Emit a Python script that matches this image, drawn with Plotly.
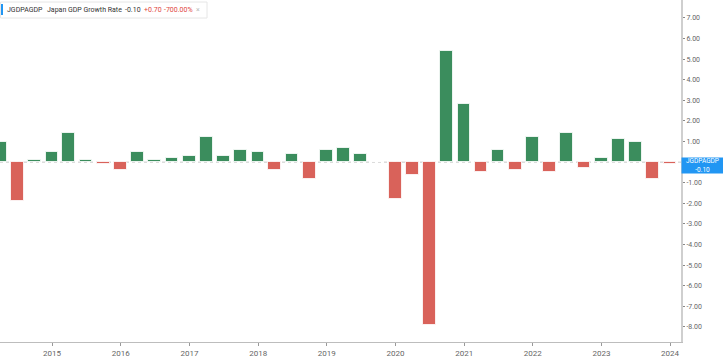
import plotly.graph_objects as go
import pandas as pd

quarters = pd.date_range("2014-03-31", periods=40, freq="QE")
growth = [1.0, -1.9, 0.1, 0.5,
          1.4, 0.1, -0.1, -0.4,
          0.5, 0.1, 0.2, 0.3,
          1.2, 0.3, 0.6, 0.5,
          -0.4, 0.4, -0.8, 0.6,
          0.7, 0.4, 0.0, -1.8,
          -0.6, -7.9, 5.4, 2.8,
          -0.5, 0.6, -0.4, 1.2,
          -0.5, 1.4, -0.3, 0.2,
          1.1, 1.0, -0.8, -0.1]
year_ticks = [f"{y}-01-01" for y in range(2015, 2025)]
year_labels = [str(y) for y in range(2015, 2025)]
y_ticks = [v for v in range(-8, 8) if v != 0]
y_labels = [f"{v:.2f}" for v in y_ticks]

GREEN = "#3b8d5d"
RED = "#d9625a"
colors = [GREEN if v >= 0 else RED for v in growth]

PW = 681.0  # plot width px
PH = 342.0  # plot height px

fig = go.Figure()
fig.add_trace(go.Bar(
    x=quarters, y=growth,
    marker=dict(color=colors, line=dict(color="rgba(255,255,255,0.8)", width=1)),
    width=68 * 86400000,
))

fig.add_shape(type="line", xref="paper", x0=0, x1=1, yref="y", y0=0, y1=0,
              line=dict(color="#c8c8c8", width=1, dash="dot"), layer="below")

fig.update_layout(
    width=723, height=359,
    margin=dict(l=0, r=42, t=0, b=17),
    paper_bgcolor="white", plot_bgcolor="white",
    showlegend=False,
    bargap=0,
    font=dict(family="Roboto, Inter, sans-serif", size=8, color="#555"),
    xaxis=dict(
        type="date",
        range=["2014-03-30", "2024-02-28"],
        tickvals=year_ticks, ticktext=year_labels,
        showgrid=False, zeroline=False,
        showline=True, linecolor="#bdbdbd", linewidth=1,
        ticks="outside", ticklen=3, tickcolor="#999",
        tickfont=dict(size=8, color="#666"),
    ),
    yaxis=dict(
        side="right",
        range=[-8.73, 7.87],
        tickvals=y_ticks, ticktext=y_labels,
        showgrid=False, zeroline=False,
        showline=True, linecolor="#cfcfcf", linewidth=2,
        ticks="outside", ticklen=2, tickcolor="#888",
        tickfont=dict(size=7, color="#666"),
    ),
)

# header legend box
fig.add_shape(type="rect", xref="paper", yref="paper",
              x0=0.5 / PW, x1=207 / PW, y0=1 - 18 / PH, y1=1 - 2 / PH,
              fillcolor="white", line=dict(color="#e6e6e6", width=1))
fig.add_shape(type="rect", xref="paper", yref="paper",
              x0=1 / PW, x1=3 / PW, y0=1 - 15 / PH, y1=1 - 4 / PH,
              fillcolor="#2196f3", line=dict(width=0))
header_parts = [
    (6, "JGDPAGDP", "#333"),
    (46, "Japan GDP Growth Rate", "#333"),
    (124, "-0.10", "#333"),
    (143, "+0.70", "#e0463c"),
    (163, "-700.00%", "#e0463c"),
    (195, "×", "#bbb"),
]
for px, txt, col in header_parts:
    fig.add_annotation(
        xref="paper", yref="paper", x=px / PW, y=1 - 10 / PH,
        xanchor="left", yanchor="middle", text=txt, showarrow=False,
        borderpad=0,
        font=dict(size=7, color=col, family="Roboto, sans-serif"),
    )

# current value label
fig.add_annotation(
    xref="paper", yref="y", x=1, y=-0.15, xanchor="left", yanchor="middle",
    text="JGDPAGDP<br>-0.10", showarrow=False, align="center",
    font=dict(size=6.5, color="white"),
    bgcolor="#2196f3", borderpad=0, width=41, height=15,
)

fig.write_html("out.html")
